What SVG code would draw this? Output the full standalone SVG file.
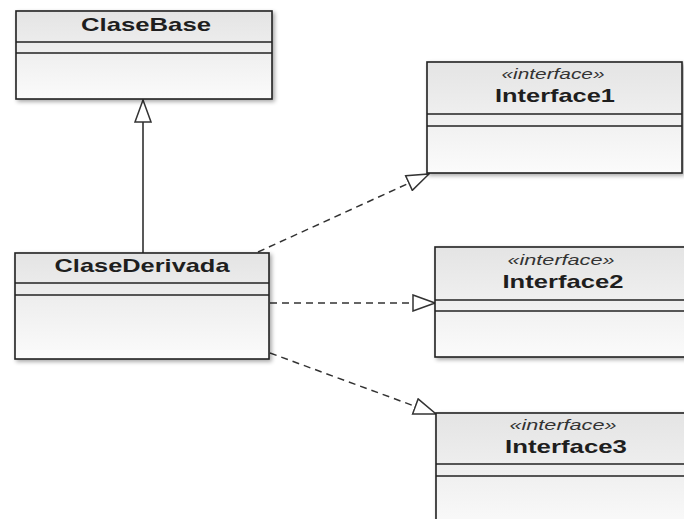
<svg xmlns="http://www.w3.org/2000/svg" width="684" height="519" viewBox="0 0 684 519">
<defs>
<linearGradient id="g" x1="0" y1="0" x2="0" y2="1">
<stop offset="0" stop-color="#e4e4e4"/>
<stop offset="1" stop-color="#fbfbfb"/>
</linearGradient>
<filter id="sh" x="-5%" y="-5%" width="115%" height="120%">
<feGaussianBlur in="SourceAlpha" stdDeviation="2"/>
<feOffset dx="2" dy="2"/>
<feComponentTransfer><feFuncA type="linear" slope="0.35"/></feComponentTransfer>
<feMerge><feMergeNode/><feMergeNode in="SourceGraphic"/></feMerge>
</filter>
<marker id="tri" viewBox="0 0 24 18" refX="23" refY="9" markerWidth="24" markerHeight="18" markerUnits="userSpaceOnUse" orient="auto">
<path d="M1,1 L23,9 L1,17 Z" fill="#fff" stroke="#333" stroke-width="1.5"/>
</marker>
</defs>
<style>
.box{fill:url(#g);stroke:#222;stroke-width:1.6;filter:url(#sh)}
.sep{stroke:#222;stroke-width:1.6}
.name{font-family:"Liberation Sans",Arial,sans-serif;font-weight:bold;font-size:19px;fill:#1e1e1e;text-anchor:middle}
.st{font-family:"Liberation Sans",Arial,sans-serif;font-style:italic;font-size:14px;fill:#333;text-anchor:middle}
.gen{stroke:#222;stroke-width:1.5;fill:none}
.real{stroke:#333;stroke-width:1.5;fill:none;stroke-dasharray:7,5}
</style>
<rect width="684" height="519" fill="#fff"/>
<g id="connectors">
<line class="gen" x1="143" y1="253" x2="143" y2="100" marker-end="url(#tri)"/>
<line class="real" x1="258" y1="252" x2="429" y2="174" marker-end="url(#tri)"/>
<line class="real" x1="270" y1="303" x2="435" y2="303" marker-end="url(#tri)"/>
<line class="real" x1="270" y1="353" x2="436" y2="414" marker-end="url(#tri)"/>
</g>
<g id="ClaseBase">
<rect class="box" x="16" y="11" width="256" height="88"/>
<line class="sep" x1="16" y1="42" x2="272" y2="42"/>
<line class="sep" x1="16" y1="53" x2="272" y2="53"/>
<text class="name" x="146" y="31" textLength="130" lengthAdjust="spacingAndGlyphs">ClaseBase</text>
</g>
<g id="ClaseDerivada">
<rect class="box" x="15" y="253" width="254" height="106"/>
<line class="sep" x1="15" y1="283" x2="269" y2="283"/>
<line class="sep" x1="15" y1="295" x2="269" y2="295"/>
<text class="name" x="142" y="272" textLength="175" lengthAdjust="spacingAndGlyphs">ClaseDerivada</text>
</g>
<g id="Interface1">
<rect class="box" x="427" y="62" width="255" height="111"/>
<line class="sep" x1="427" y1="114" x2="682" y2="114"/>
<line class="sep" x1="427" y1="126" x2="682" y2="126"/>
<text class="st" x="553" y="79" textLength="103" lengthAdjust="spacingAndGlyphs">«interface»</text>
<text class="name" x="555" y="102" textLength="120" lengthAdjust="spacingAndGlyphs">Interface1</text>
</g>
<g id="Interface2">
<rect class="box" x="435" y="247" width="260" height="110"/>
<line class="sep" x1="435" y1="300" x2="695" y2="300"/>
<line class="sep" x1="435" y1="311" x2="695" y2="311"/>
<text class="st" x="561" y="265" textLength="107" lengthAdjust="spacingAndGlyphs">«interface»</text>
<text class="name" x="563" y="288" textLength="121" lengthAdjust="spacingAndGlyphs">Interface2</text>
</g>
<g id="Interface3">
<rect class="box" x="436" y="413" width="260" height="120"/>
<line class="sep" x1="436" y1="464" x2="696" y2="464"/>
<line class="sep" x1="436" y1="476" x2="696" y2="476"/>
<text class="st" x="563" y="430" textLength="107" lengthAdjust="spacingAndGlyphs">«interface»</text>
<text class="name" x="566" y="453" textLength="122" lengthAdjust="spacingAndGlyphs">Interface3</text>
</g>
</svg>
